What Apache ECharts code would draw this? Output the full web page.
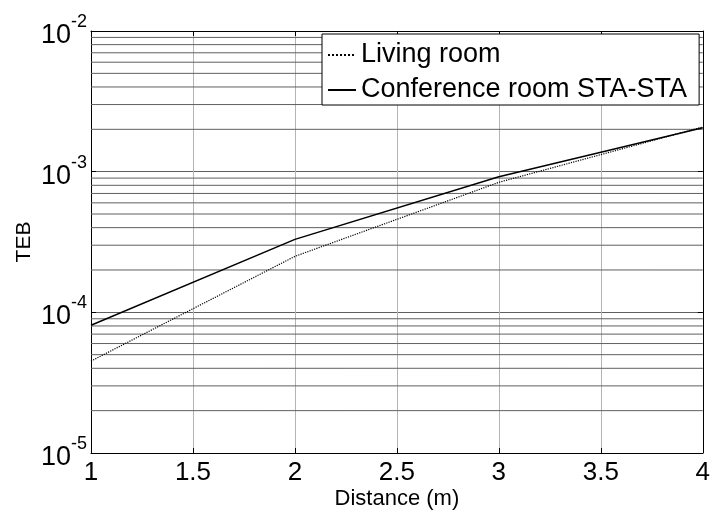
<!DOCTYPE html>
<html lang="en">
<head>
    <meta charset="UTF-8">
    <title>TEB vs distance</title>
    <style>
        html, body { margin: 0; padding: 0; background: #fff; }
    </style>
</head>
<body>
<div id="main" style="width: 713px;height:515px;"></div>
<script src="https://cdn.jsdelivr.net/npm/echarts@6/dist/echarts.min.js"></script>
<script>
    // 数据
    var distance = [1, 2, 3, 4];
    var livingRoom = [4.5e-5, 2.5e-4, 8.4e-4, 2.08e-3];
    var conferenceRoom = [8.1e-5, 3.3e-4, 9.2e-4, 2.05e-3];
    var seriesNames = ['Living room', 'Conference room STA-STA'];

    // 对数坐标的次网格线 (2..9 x 10^k)
    var minorValues = [];
    for (var k = -5; k < -2; k++) {
        for (var m = 2; m <= 9; m++) {
            minorValues.push(m * Math.pow(10, k));
        }
    }

    function pairs(xs, ys) {
        var out = [];
        for (var i = 0; i < xs.length; i++) {
            out.push([xs[i], ys[i]]);
        }
        return out;
    }

    var font = 'Liberation Sans, Arial, sans-serif';
    var yLabel = {
        show: true,
        margin: 4,
        formatter: function (v) {
            var e = Math.round(Math.log(v) / Math.LN10);
            return '{b|10}{e|' + e + '}';
        },
        rich: {
            b: {fontSize: 27, fontFamily: font, color: '#000', lineHeight: 36, verticalAlign: 'bottom'},
            e: {fontSize: 18, fontFamily: font, color: '#000', lineHeight: 36, verticalAlign: 'top'}
        }
    };

    // 次网格线用细线系列画出
    var series = [];
    for (var i = 0; i < minorValues.length; i++) {
        series.push({
            name: 'minor' + i,
            type: 'line',
            symbol: 'none',
            silent: true,
            data: [[1, minorValues[i]], [4, minorValues[i]]],
            lineStyle: {color: '#606060', width: 1},
            emphasis: {disabled: true},
            z: 1
        });
    }
    series.push({
        name: seriesNames[0],
        type: 'line',
        symbol: 'none',
        data: pairs(distance, livingRoom),
        lineStyle: {color: '#000', width: 1.2, type: 'dotted'},
        itemStyle: {color: '#000'},
        z: 5
    });
    series.push({
        name: seriesNames[1],
        type: 'line',
        symbol: 'none',
        data: pairs(distance, conferenceRoom),
        lineStyle: {color: '#000', width: 1.5, type: 'solid'},
        itemStyle: {color: '#000'},
        z: 5
    });

    var app = echarts.init(document.getElementById('main'));
    var option = {
        animation: false,
        backgroundColor: '#fff',
        grid: {
            left: 91,
            right: 8,
            top: 31,
            bottom: 55,
            containLabel: false
        },
        legend: {
            data: seriesNames,
            orient: 'vertical',
            left: 322,
            top: 34,
            z: 10,
            backgroundColor: '#fff',
            borderColor: '#000',
            borderWidth: 1,
            borderRadius: 0,
            padding: [6, 12, 0, 5],
            itemGap: 5,
            itemWidth: 28,
            itemHeight: 14,
            itemStyle: {opacity: 0},
            textStyle: {fontSize: 27, lineHeight: 30, fontFamily: font, color: '#000'}
        },
        xAxis: [
            {
                type: 'value',
                min: 1,
                max: 4,
                interval: 0.5,
                name: 'Distance (m)',
                nameLocation: 'middle',
                nameMoveOverlap: false,
                nameGap: 35,
                nameTextStyle: {fontSize: 22, fontFamily: font, color: '#000'},
                axisLine: {lineStyle: {color: '#000', width: 1}},
                axisTick: {inside: true, length: 5, lineStyle: {color: '#000'}},
                axisLabel: {fontSize: 26, fontFamily: font, color: '#000', margin: 7},
                splitLine: {show: true, lineStyle: {color: '#b4b4b4', width: 1}}
            },
            {
                type: 'value',
                position: 'top',
                min: 1,
                max: 4,
                interval: 0.5,
                axisLine: {lineStyle: {color: '#000', width: 1}},
                axisTick: {inside: true, length: 5, lineStyle: {color: '#000'}},
                axisLabel: {show: false},
                splitLine: {show: false}
            }
        ],
        yAxis: [
            {
                type: 'log',
                logBase: 10,
                min: 1e-5,
                max: 1e-2,
                name: 'TEB',
                nameLocation: 'middle',
                nameMoveOverlap: false,
                nameGap: 56,
                nameTextStyle: {fontSize: 21, fontFamily: font, color: '#000'},
                axisLine: {show: true, lineStyle: {color: '#000', width: 1}},
                axisTick: {show: true, inside: true, length: 5, lineStyle: {color: '#000'}},
                axisLabel: yLabel,
                splitLine: {show: true, lineStyle: {color: '#606060', width: 1}}
            },
            {
                type: 'log',
                logBase: 10,
                min: 1e-5,
                max: 1e-2,
                position: 'right',
                axisLine: {show: true, lineStyle: {color: '#000', width: 1}},
                axisTick: {show: true, inside: true, length: 5, lineStyle: {color: '#000'}},
                axisLabel: {show: false},
                splitLine: {show: false}
            }
        ],
        series: series
    };
    app.setOption(option);
</script>
</body>
</html>
